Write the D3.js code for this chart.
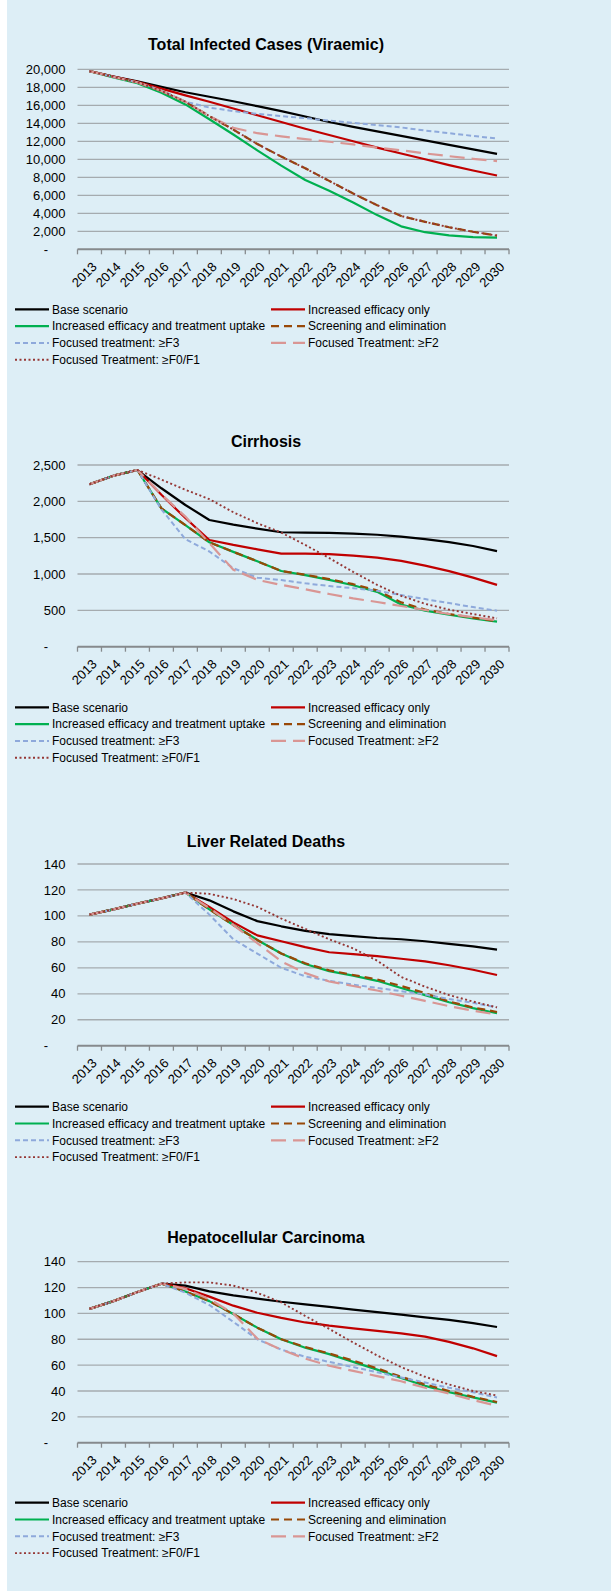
<!DOCTYPE html>
<html><head><meta charset="utf-8">
<script src="https://cdn.jsdelivr.net/npm/d3@7"></script>
<style>
body{margin:0;background:#fff}
svg{display:block}
text{font-family:"Liberation Sans",Arial,sans-serif;fill:#000}
</style>
</head><body>
<svg id="c" width="611" height="1591"></svg>
<script>
// ---------------- DATA ----------------
const years = ["2013","2014","2015","2016","2017","2018","2019","2020","2021","2022","2023","2024","2025","2026","2027","2028","2029","2030"];
const seriesNames = ["Base scenario","Increased efficacy only","Increased efficacy and treatment uptake","Screening and elimination","Focused treatment: \u2265F3","Focused Treatment: \u2265F2","Focused Treatment: \u2265F0/F1"];
const chartTitles = ["Total Infected Cases (Viraemic)","Cirrhosis","Liver Related Deaths","Hepatocellular Carcinoma"];

const viraemicTicks = [0,2000,4000,6000,8000,10000,12000,14000,16000,18000,20000];
const cirrhosisTicks = [0,500,1000,1500,2000,2500];
const deathsTicks = [0,20,40,60,80,100,120,140];
const hccTicks = [0,20,40,60,80,100,120,140];

// Total infected cases (viraemic)
const viraemicBase      = [19800,19200,18650,18050,17450,16950,16450,15900,15350,14750,14150,13600,13100,12600,12100,11600,11100,10600];
const viraemicEff       = [19800,19200,18600,17850,17100,16400,15650,14900,14150,13400,12700,12000,11300,10650,10000,9350,8750,8200];
const viraemicEffUptake = [19800,19100,18450,17400,16100,14450,12750,11000,9300,7700,6500,5200,3800,2550,1900,1550,1350,1300];
const viraemicScreening = [19800,19150,18550,17600,16400,14800,13300,11700,10300,9000,7600,6200,4900,3700,3050,2450,1950,1520];
const viraemicF3        = [19800,19150,18550,17650,16400,15750,15350,15050,14800,14570,14300,14050,13800,13540,13200,12900,12600,12300];
const viraemicF2        = [19800,19150,18550,17600,16400,14800,13500,12900,12550,12250,11950,11650,11300,11000,10650,10350,10050,9800];
const viraemicF0        = [19800,19150,18550,17600,16400,14800,13300,11700,10300,9000,7600,6200,4900,3700,3050,2450,1950,1520];

// Cirrhosis
const cirrhosisBase      = [2234,2353,2431,2180,1950,1743,1680,1625,1575,1570,1565,1555,1540,1515,1480,1440,1385,1315];
const cirrhosisEff       = [2234,2353,2431,2090,1770,1468,1400,1340,1280,1280,1275,1252,1225,1180,1115,1040,950,850];
const cirrhosisEffUptake = [2234,2353,2431,1904,1674,1436,1305,1175,1041,985,920,845,755,580,495,440,390,345];
const cirrhosisScreening = [2234,2353,2431,1904,1674,1436,1305,1175,1041,990,930,860,775,610,510,450,400,350];
const cirrhosisF3        = [2234,2353,2431,1890,1480,1310,1080,950,917,872,835,805,770,710,655,600,545,495];
const cirrhosisF2        = [2234,2353,2431,2095,1790,1425,1060,920,850,790,725,665,615,560,505,450,405,365];
const cirrhosisF0        = [2234,2353,2431,2300,2160,2030,1850,1700,1570,1400,1220,1030,850,700,590,510,450,390];

// Liver related deaths
const deathsBase      = [101,105,109.5,113.5,118,112,103.5,96,92,88.5,86,84.5,83,82,80.5,78.5,76.5,74];
const deathsEff       = [101,105,109.5,113.5,118,107,95,85,80.5,76,72,70.5,69,67,65,62,58.5,54.5];
const deathsEffUptake = [101,105,109.5,113.5,118,105,93,81.5,71,63,57.5,54,50,44.5,39,33.5,29,25];
const deathsScreening = [101,105,109.5,113.5,118,105,93,81.5,71,63.5,58,54.5,51,46,40.5,34,29.5,26];
const deathsF3        = [101,105,109.5,113.5,118,101,82,71,60,53.5,50,47,44.5,42,39.5,36,33,29.5];
const deathsF2        = [101,105,109.5,113.5,118,106,93,79,65,56,49.5,46,42.5,38.5,34.5,30.5,27,24];
const deathsF0        = [101,105,109.5,113.5,118,117,113,107,98,90,82,75,65.5,53,45.5,39,34,29.5];

// Hepatocellular carcinoma
const hccBase      = [103.5,109.5,116.5,123,121.5,117,114,111.5,109,107,105,103,101,99,97,95,92.5,89.5];
const hccEff       = [103.5,109.5,116.5,123,119.5,113,106,100.5,96.5,93,90.5,88.5,86.5,84.5,82,78,73,67];
const hccEffUptake = [103.5,109.5,116.5,123,117,109.5,99.5,89,80,73.5,68.5,62.5,56.5,50,44,39,35,31];
const hccScreening = [103.5,109.5,116.5,123,117,109.5,99.5,89,80,74,69,63.5,57.5,51,45,40,35.5,31.5];
const hccF3        = [103.5,109.5,116.5,123,116,106.5,93.5,80,72,66.5,62.5,58.5,54.5,50.5,46.5,42.5,39,35];
const hccF2        = [103.5,109.5,116.5,123,119,111,100,80.5,72,65,59.5,55.5,51.5,47.5,42.5,38,33,28.5];
const hccF0        = [103.5,109.5,116.5,123,124,124,121.5,116,108.5,98,88,77.5,67.5,58.5,51,45,40,36.5];

// ---------------- STYLE / LAYOUT ----------------
const seriesStyles = [
  {color:"#000000", dash:null,      width:2.2},
  {color:"#C00000", dash:null,      width:2.2},
  {color:"#00B050", dash:null,      width:2.2},
  {color:"#984807", dash:"8,5",     width:2.2},
  {color:"#8EA9DB", dash:"5,3",     width:2.0},
  {color:"#D99694", dash:"15,7",    width:2.2},
  {color:"#953735", dash:"2,2.5",   width:1.9}
];
const layout = [
  {titleY:50,     plotTop:69.3,   plotBottom:249.3,  legendY:309.3},
  {titleY:446.7,  plotTop:465,    plotBottom:646.7,  legendY:707.3},
  {titleY:846.7,  plotTop:864,    plotBottom:1045.7, legendY:1106.7},
  {titleY:1243.3, plotTop:1261.7, plotBottom:1442.7, legendY:1502.7}
];
const X0 = 77.5, X1 = 509, TITLE_X = 266;

const charts = [
  {title:chartTitles[0], ticks:viraemicTicks,  series:[viraemicBase,viraemicEff,viraemicEffUptake,viraemicScreening,viraemicF3,viraemicF2,viraemicF0]},
  {title:chartTitles[1], ticks:cirrhosisTicks, series:[cirrhosisBase,cirrhosisEff,cirrhosisEffUptake,cirrhosisScreening,cirrhosisF3,cirrhosisF2,cirrhosisF0]},
  {title:chartTitles[2], ticks:deathsTicks,    series:[deathsBase,deathsEff,deathsEffUptake,deathsScreening,deathsF3,deathsF2,deathsF0]},
  {title:chartTitles[3], ticks:hccTicks,       series:[hccBase,hccEff,hccEffUptake,hccScreening,hccF3,hccF2,hccF0]}
];

// ---------------- DRAW ----------------
const svg = d3.select("#c");
svg.append("rect").attr("x",7).attr("y",0).attr("width",604).attr("height",1591).attr("fill","#DDEEF6");

const fmt = d3.format(",");

charts.forEach((ch, ci) => {
  const L = layout[ci];
  const g = svg.append("g");
  const x = d3.scaleBand().domain(years).range([X0, X1]).padding(0);
  const bw = x.bandwidth();
  const cx = d => x(d) + bw/2;
  const y = d3.scaleLinear().domain([0, d3.max(ch.ticks)]).range([L.plotBottom, L.plotTop]);

  // title
  g.append("text").attr("x",TITLE_X).attr("y",L.titleY).attr("text-anchor","middle")
    .attr("font-size","16px").attr("font-weight","bold").text(ch.title);

  // gridlines
  g.selectAll(".grid").data(ch.ticks.filter(t=>t>0)).enter().append("line")
    .attr("x1",X0).attr("x2",X1).attr("y1",d=>y(d)).attr("y2",d=>y(d))
    .attr("stroke","#A5ABAF").attr("stroke-width",1.3);

  // y labels
  g.selectAll(".yl").data(ch.ticks).enter().append("text")
    .attr("x", d => d===0 ? 48 : X0-12)
    .attr("y", d => y(d)).attr("dy","0.35em").attr("text-anchor","end")
    .attr("font-size","13px").text(d => d===0 ? "-" : fmt(d));

  // x axis line
  g.append("line").attr("x1",X0).attr("x2",X1).attr("y1",y(0)).attr("y2",y(0))
    .attr("stroke","#868A8D").attr("stroke-width",2);
  const edges = years.map(d=>x(d)).concat([X1]);
  g.selectAll(".tk").data(edges).enter().append("line")
    .attr("x1",d=>d).attr("x2",d=>d).attr("y1",y(0)).attr("y2",y(0)+5)
    .attr("stroke","#868A8D").attr("stroke-width",1.3);

  // x labels
  g.selectAll(".xl").data(years).enter().append("text")
    .attr("transform", d => `translate(${cx(d)+5},${y(0)+15}) rotate(-45)`)
    .attr("text-anchor","end").attr("dy","0.35em").attr("font-size","13px").text(d=>d);

  // series lines
  const line = d3.line().x((d,i)=>cx(years[i])).y(d=>y(d));
  ch.series.forEach((vals, si) => {
    const st = seriesStyles[si];
    g.append("path").attr("d", line(vals)).attr("fill","none")
      .attr("stroke",st.color).attr("stroke-width",st.width)
      .attr("stroke-dasharray",st.dash).attr("stroke-linejoin","round");
  });

  // legend
  seriesNames.forEach((name, si) => {
    const st = seriesStyles[si];
    const col = si % 2, row = Math.floor(si/2);
    const lx = col===0 ? 15 : 271;
    const ly = L.legendY + row*16.8;
    g.append("line").attr("x1",lx).attr("x2",lx+34).attr("y1",ly).attr("y2",ly)
      .attr("stroke",st.color).attr("stroke-width",st.width).attr("stroke-dasharray",st.dash);
    g.append("text").attr("x",lx+37).attr("y",ly).attr("dy","0.35em")
      .attr("font-size","12px").text(name);
  });
});
</script>
</body></html>
